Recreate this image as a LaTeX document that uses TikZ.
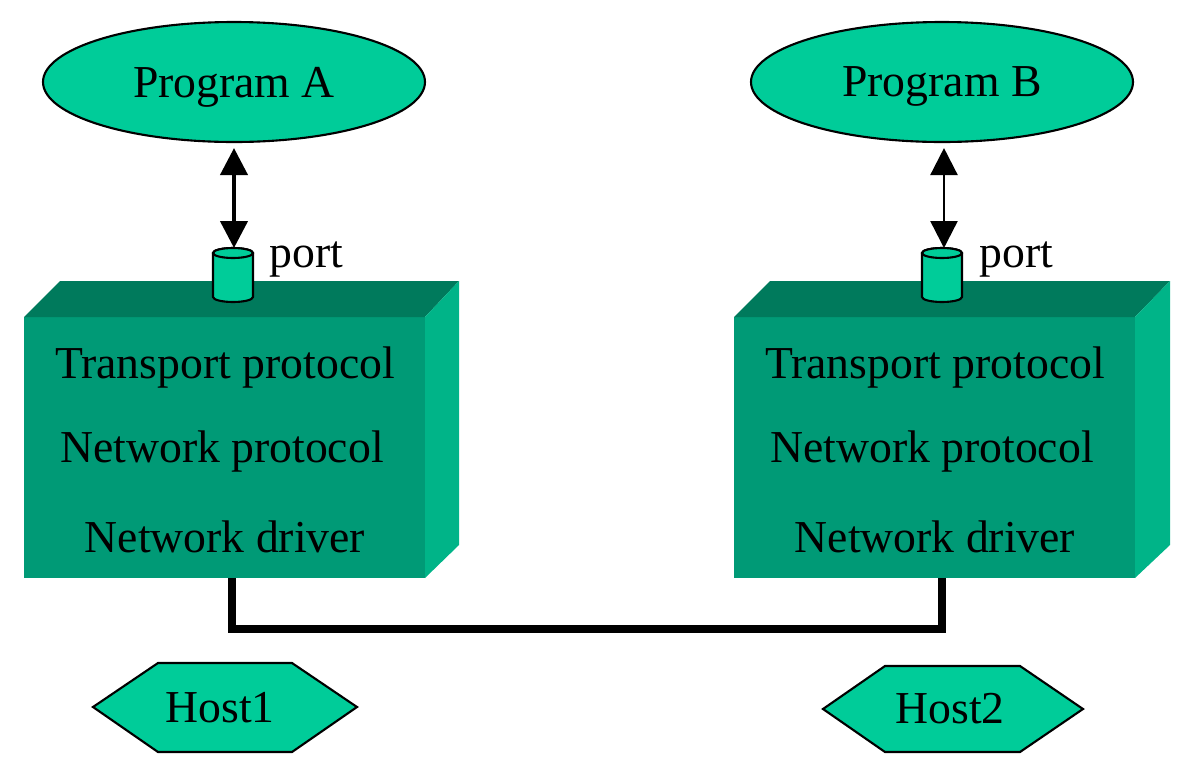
\documentclass[tikz,border=0pt]{standalone}
\usepackage{fontspec}
\setmainfont{Liberation Serif}
\usetikzlibrary{shapes.geometric,arrows.meta}

\definecolor{progfill}{RGB}{0,204,153}
\definecolor{frontfill}{RGB}{0,154,118}
\definecolor{topfill}{RGB}{0,122,92}
\definecolor{sidefill}{RGB}{0,180,136}

\begin{document}
\begin{tikzpicture}[
    txt/.style={font=\fontsize{13}{15}\selectfont},
    prog/.style={txt, ellipse, draw=black, line width=0.6pt, fill=progfill,
                 minimum width=3.82cm, minimum height=1.2cm, inner sep=0pt, text depth=0pt},
    layer/.style={txt, anchor=base, inner sep=0pt},
    hexa/.style={draw=black, line width=0.6pt, fill=progfill},
    portcyl/.style={draw=black, line width=0.6pt, fill=progfill},
    link/.style={{Triangle[width=0.27cm,length=0.27cm]}-{Triangle[width=0.27cm,length=0.27cm]}},
    wire/.style={line width=2.4pt}
  ]

      \useasboundingbox (0,0) rectangle (12,-7.79);

      % programmes
      \node[prog] (progA) at (2.34,-0.82) {Program A};
      \node[prog] (progB) at (9.42,-0.82) {Program B};

      % hote 1 : boite 3D
      \fill[frontfill] (0.24,-3.17) rectangle (4.25,-5.78);
      \fill[topfill] (0.24,-3.17) -- (0.60,-2.81) -- (4.59,-2.81) -- (4.25,-3.17) -- cycle;
      \fill[sidefill] (4.25,-3.17) -- (4.59,-2.81) -- (4.59,-5.45) -- (4.25,-5.78) -- cycle;

      % hote 2 : boite 3D
      \fill[frontfill] (7.34,-3.17) rectangle (11.35,-5.78);
      \fill[topfill] (7.34,-3.17) -- (7.70,-2.81) -- (11.70,-2.81) -- (11.35,-3.17) -- cycle;
      \fill[sidefill] (11.35,-3.17) -- (11.70,-2.81) -- (11.70,-5.45) -- (11.35,-5.78) -- cycle;

      % couches
      \node[layer] (tpA) at (2.25,-3.78) {Transport protocol};
      \node[layer] (npA) at (2.22,-4.62) {Network protocol};
      \node[layer] (ndA) at (2.25,-5.52) {Network driver};
      \node[layer] (tpB) at (9.35,-3.78) {Transport protocol};
      \node[layer] (npB) at (9.32,-4.62) {Network protocol};
      \node[layer] (ndB) at (9.35,-5.52) {Network driver};

      % ports
      \filldraw[portcyl] (2.13,-2.53) -- (2.13,-2.97)
        arc[start angle=180, end angle=360, x radius=0.2, y radius=0.05]
        -- (2.53,-2.53) arc[start angle=0, end angle=180, x radius=0.2, y radius=0.05] -- cycle;
      \draw[portcyl] (2.33,-2.53) ellipse[x radius=0.2, y radius=0.05];
      \filldraw[portcyl] (9.22,-2.53) -- (9.22,-2.97)
        arc[start angle=180, end angle=360, x radius=0.2, y radius=0.05]
        -- (9.62,-2.53) arc[start angle=0, end angle=180, x radius=0.2, y radius=0.05] -- cycle;
      \draw[portcyl] (9.42,-2.53) ellipse[x radius=0.2, y radius=0.05];
      \coordinate (portA) at (2.34,-2.48);
      \coordinate (portB) at (9.44,-2.48);
      \node[layer, anchor=base west] (lblA) at (2.69,-2.67) {port};
      \node[layer, anchor=base west] (lblB) at (9.79,-2.67) {port};

      % liaisons programme <-> port
      \draw[link, line width=1.2pt, shorten <=0.05cm] (portA |- progA.south) -- (portA);
      \draw[link, line width=0.7pt, shorten <=0.05cm] (portB |- progB.south) -- (portB);

      % cable reseau
      \coordinate (wireA) at (2.32,-5.78);
      \coordinate (wireB) at (9.42,-5.78);
      \draw[wire] (wireA) -- ++(0,-0.51) -| (wireB);

      % etiquettes des hotes
      \filldraw[hexa] (0.93,-7.07) -- (1.58,-6.63) -- (2.92,-6.63) -- (3.57,-7.07)
        -- (2.92,-7.52) -- (1.58,-7.52) -- cycle;
      \filldraw[hexa] (8.23,-7.09) -- (8.85,-6.66) -- (10.20,-6.66) -- (10.83,-7.09)
        -- (10.20,-7.52) -- (8.85,-7.52) -- cycle;
      \node[layer] (host1) at (2.20,-7.22) {Host1};
      \node[layer] (host2) at (9.50,-7.23) {Host2};
\end{tikzpicture}
\end{document}
